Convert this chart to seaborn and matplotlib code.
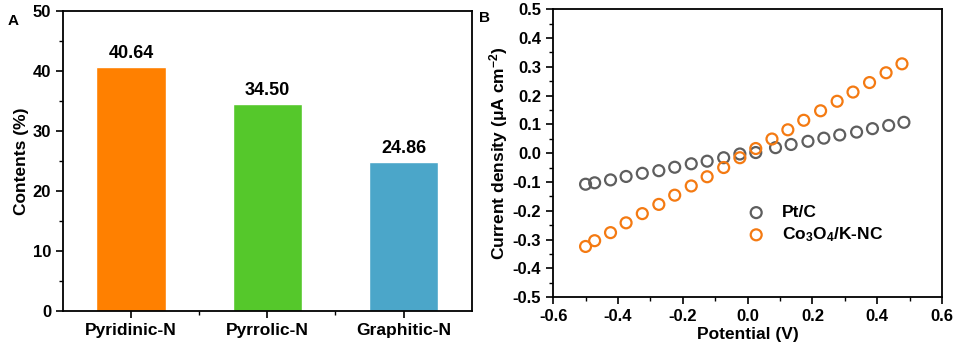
import matplotlib
matplotlib.use("Agg")
import matplotlib.pyplot as plt
from matplotlib.ticker import MultipleLocator, FixedLocator
import seaborn as sns
import pandas as pd

# panel A data
species = ["Pyridinic-N", "Pyrrolic-N", "Graphitic-N"]
contents = [40.64, 34.50, 24.86]
bar_colors = ["#FF8000", "#55C82B", "#4BA6C9"]

# panel B data
pt_potential = [-0.500, -0.472, -0.423, -0.375, -0.325, -0.274, -0.225, -0.174, -0.125,
                -0.074, -0.024, 0.025, 0.086, 0.134, 0.186, 0.235, 0.284, 0.336, 0.385,
                0.435, 0.482]
pt_current = [-0.108, -0.103, -0.093, -0.081, -0.070, -0.061, -0.049, -0.037, -0.028,
              -0.016, -0.003, 0.002, 0.019, 0.030, 0.041, 0.052, 0.063, 0.073, 0.085,
              0.096, 0.107]
co_potential = [-0.500, -0.472, -0.423, -0.375, -0.325, -0.274, -0.225, -0.174, -0.125,
                -0.074, -0.024, 0.025, 0.075, 0.124, 0.173, 0.225, 0.276, 0.325, 0.376,
                0.427, 0.476]
co_current = [-0.324, -0.304, -0.276, -0.242, -0.210, -0.178, -0.146, -0.114, -0.082,
              -0.050, -0.016, 0.016, 0.049, 0.081, 0.114, 0.147, 0.180, 0.212, 0.245,
              0.279, 0.310]

sns.set_style("ticks")
plt.rcParams["font.family"] = ["Liberation Sans", "DejaVu Sans"]
plt.rcParams["font.weight"] = "bold"
plt.rcParams["axes.labelweight"] = "bold"
plt.rcParams["axes.unicode_minus"] = False
plt.rcParams["mathtext.fontset"] = "custom"
plt.rcParams["mathtext.rm"] = "Liberation Sans:bold"
plt.rcParams["mathtext.bf"] = "Liberation Sans:bold"
plt.rcParams["mathtext.it"] = "Liberation Sans:bold"
plt.rcParams["mathtext.default"] = "bf"
for key in ["text.color", "axes.labelcolor", "xtick.color", "ytick.color", "axes.edgecolor"]:
    plt.rcParams[key] = "black"

fig = plt.figure(figsize=(9.57, 3.5), dpi=100)
ax1 = fig.add_axes([0.0658, 0.111, 0.427, 0.857])
ax2 = fig.add_axes([0.578, 0.151, 0.4065, 0.823])

# ---- panel A
df_a = pd.DataFrame({"species": species, "contents": contents})
sns.barplot(data=df_a, x="species", y="contents", hue="species", palette=bar_colors,
            width=0.51, saturation=1, legend=False, ax=ax1)
for i, v in enumerate(contents):
    ax1.text(i, v + 0.9, f"{v:.2f}", ha="center", va="bottom",
             fontsize=13, fontweight="bold")
ax1.set_xlim(-0.5, 2.5)
ax1.set_ylim(0, 50)
ax1.yaxis.set_major_locator(MultipleLocator(10))
ax1.yaxis.set_minor_locator(MultipleLocator(5))
ax1.xaxis.set_minor_locator(FixedLocator([0.5, 1.5]))
ax1.set_xlabel("")
ax1.set_ylabel("Contents (%)", fontsize=12.5, fontweight="bold", labelpad=3)
ax1.text(-0.135, 0.955, "A", transform=ax1.transAxes, fontsize=11, fontweight="bold")

# ---- panel B
co_name = r"Co$_{3}$O$_{4}$/K-NC"
df_b = pd.concat([
    pd.DataFrame({"potential": pt_potential, "current": pt_current, "sample": "Pt/C"}),
    pd.DataFrame({"potential": co_potential, "current": co_current, "sample": co_name}),
])
pal = {"Pt/C": "#5E5E5E", co_name: "#F47A12"}
for name, grp in df_b.groupby("sample", sort=False):
    sns.scatterplot(x=grp["potential"], y=grp["current"], ax=ax2, marker="o", s=62,
                    facecolors="none", edgecolor=pal[name], linewidth=1.6, label=name)
ax2.set_xlim(-0.6, 0.6)
ax2.set_ylim(-0.5, 0.5)
ax2.xaxis.set_major_locator(MultipleLocator(0.2))
ax2.xaxis.set_minor_locator(MultipleLocator(0.1))
ax2.yaxis.set_major_locator(MultipleLocator(0.1))
ax2.yaxis.set_minor_locator(MultipleLocator(0.05))
ax2.set_xlabel("Potential (V)", fontsize=12.5, fontweight="bold", labelpad=2)
ax2.set_ylabel(r"Current density ($\mu$A cm$^{-2}$)", fontsize=12.5,
               fontweight="bold", labelpad=2)
ax2.text(-0.19, 0.955, "B", transform=ax2.transAxes, fontsize=11, fontweight="bold")
leg = ax2.legend(loc="upper left", bbox_to_anchor=(0.455, 0.35), frameon=False,
                 fontsize=12.5, handletextpad=0.5, labelspacing=0.3, borderpad=0)
for t in leg.get_texts():
    t.set_fontweight("bold")
    t.set_color("black")

for ax in (ax1, ax2):
    ax.tick_params(which="major", direction="out", length=5, width=1.2,
                   labelsize=12, top=False, right=False, colors="black")
    ax.tick_params(which="minor", direction="out", length=3, width=1, top=False, right=False,
                   colors="black")
    for sp in ax.spines.values():
        sp.set_linewidth(1.3)
        sp.set_color("black")
    for lab in ax.get_xticklabels() + ax.get_yticklabels():
        lab.set_fontweight("bold")
ax1.tick_params(axis="x", labelsize=12.5)

plt.savefig("out.png", dpi=100)
